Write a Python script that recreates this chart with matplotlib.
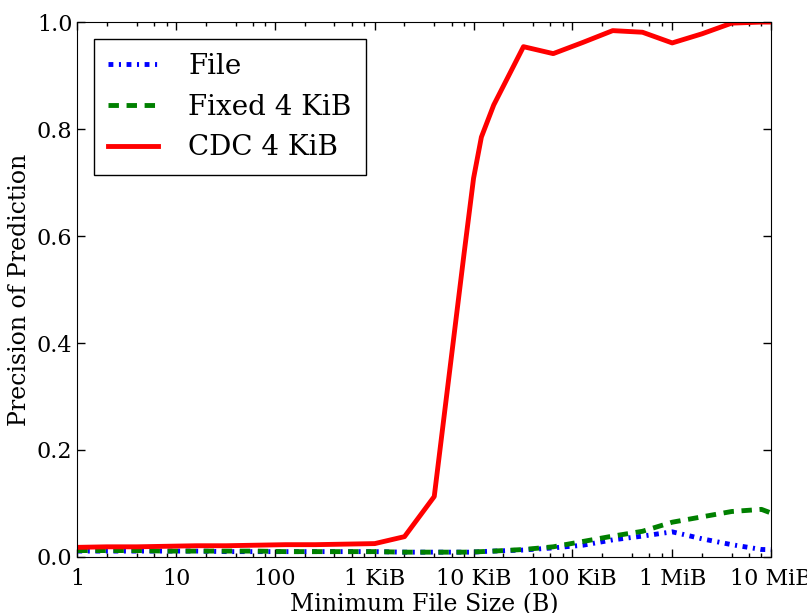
import matplotlib
matplotlib.use('Agg')
import matplotlib.pyplot as plt
from matplotlib.ticker import FixedLocator, NullFormatter

plt.rcParams['font.family'] = ['DejaVu Serif']
# old-style dash patterns that do not grow with line width
plt.rcParams['lines.scale_dashes'] = False
plt.rcParams['lines.dashed_pattern'] = [7.5, 5.5]
plt.rcParams['lines.dashdot_pattern'] = [3.5, 4, 1.5, 4]

# minimum file size thresholds (bytes)
sizes = [2**k for k in range(14)] + [10240, 12288] + [2**k for k in range(14, 25)]

file_prec = [0.011, 0.011, 0.011, 0.011, 0.011, 0.010, 0.010, 0.010, 0.010, 0.010,
             0.010, 0.009, 0.009, 0.009, 0.009, 0.010, 0.011, 0.013, 0.017, 0.022,
             0.032, 0.039, 0.047, 0.034, 0.023, 0.014, 0.013]
fixed_prec = [0.012, 0.012, 0.012, 0.011, 0.011, 0.011, 0.011, 0.010, 0.010, 0.010,
              0.010, 0.009, 0.009, 0.009, 0.0095, 0.010, 0.011, 0.014, 0.019, 0.029,
              0.039, 0.048, 0.065, 0.075, 0.085, 0.089, 0.068]
cdc_prec = [0.018, 0.019, 0.019, 0.020, 0.021, 0.021, 0.022, 0.023, 0.023, 0.024,
            0.025, 0.038, 0.113, 0.566, 0.708, 0.785, 0.845, 0.954, 0.941, 0.962,
            0.984, 0.981, 0.961, 0.978, 0.998, 1.0, 1.0]

tick_vals = [1, 10, 100, 1024, 10240, 102400, 1048576, 10485760]
tick_labels = ['1', '10', '100', '1 KiB', '10 KiB', '100 KiB', '1 MiB', '10 MiB']
minor_vals = [m * t for t in tick_vals for m in (2, 4, 6, 8)]

fig = plt.figure(figsize=(8.07, 6.13), dpi=100)
ax = fig.add_axes([0.0958, 0.0914, 0.8596, 0.8726])

ax.plot(sizes, file_prec, 'b-.', lw=3.5, label='File')
ax.plot(sizes, fixed_prec, 'g--', lw=3.5, label='Fixed 4 KiB')
ax.plot(sizes, cdc_prec, 'r-', lw=3.5, label='CDC 4 KiB')

ax.set_xscale('log')
ax.set_xlim(1, 10485760)
ax.set_ylim(0, 1.0)
ax.xaxis.set_major_locator(FixedLocator(tick_vals))
ax.set_xticklabels(tick_labels)
ax.xaxis.set_minor_locator(FixedLocator(minor_vals))
ax.xaxis.set_minor_formatter(NullFormatter())
ax.set_yticks([0.0, 0.2, 0.4, 0.6, 0.8, 1.0])
ax.set_yticklabels(['0.0', '0.2', '0.4', '0.6', '0.8', '1.0'])
ax.tick_params(which='both', direction='in', top=True, right=True, labelsize=16)
ax.tick_params(which='major', length=6, width=1)
ax.tick_params(which='minor', length=3, width=1)
ax.tick_params(axis='x', pad=8)

ax.set_xlabel('Minimum File Size (B)', fontsize=17, labelpad=2)
ax.set_ylabel('Precision of Prediction', fontsize=17)

leg = ax.legend(loc='upper left', fontsize=20, fancybox=False, framealpha=1,
                edgecolor='black', handlelength=1.8, handletextpad=1.1,
                borderpad=0.5, labelspacing=0.5, borderaxespad=0.6)
leg.get_frame().set_linewidth(1)

fig.savefig('out.png', dpi=100)
